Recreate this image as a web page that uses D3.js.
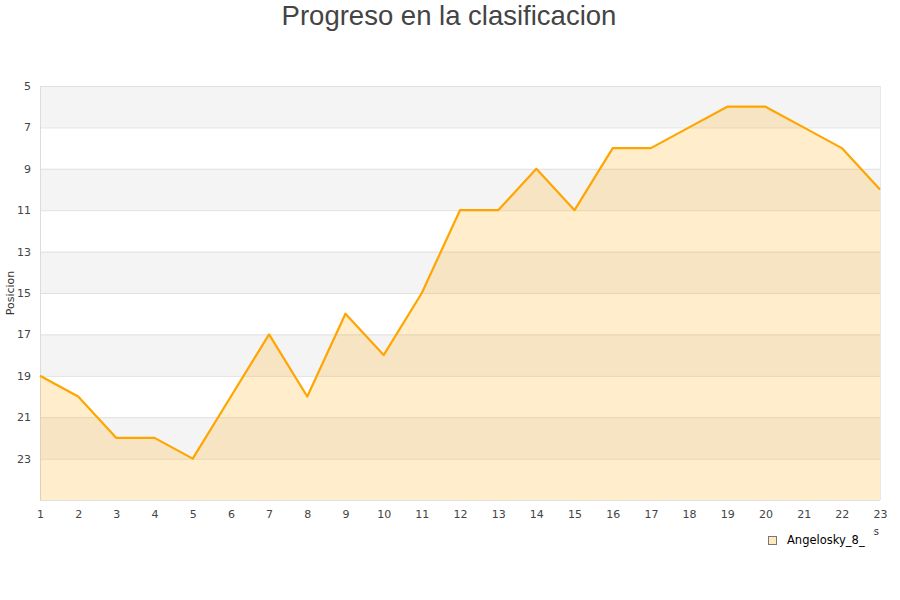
<!DOCTYPE html>
<html><head><meta charset="utf-8">
<script src="https://cdn.jsdelivr.net/npm/d3@7"></script>
<style>body{margin:0;background:#fff}svg{display:block}</style>
</head><body>
<svg id="c" width="900" height="600"></svg>
<script>
const jornadas = [1,2,3,4,5,6,7,8,9,10,11,12,13,14,15,16,17,18,19,20,21,22,23];
const posiciones = [19,20,22,22,23,20,17,20,16,18,15,11,11,9,11,8,8,7,6,6,7,8,10];
const yTicks = [5,7,9,11,13,15,17,19,21,23];
const seriesName = "Angelosky_8_";
const title = "Progreso en la clasificacion";
const yTitle = "Posicion";
const xTitle = "Jornadas";

const svg = d3.select("#c");
const m = {l:40, r:880, t:86, b:500};
const x = d3.scaleLinear().domain([1,23]).range([m.l, m.r]);
const y = d3.scaleLinear().domain([5,25]).range([m.t, m.b]);

// bands
const bands = d3.range(5,25,2);
svg.selectAll("rect.band").data(bands).enter().append("rect")
  .attr("x", m.l).attr("width", m.r-m.l)
  .attr("y", d=>y(d)).attr("height", d=>y(d+2)-y(d))
  .attr("fill", (d,i)=> i%2===0 ? "#f4f4f4" : "#ffffff");

// gridlines
svg.selectAll("line.grid").data(yTicks.concat([25])).enter().append("line")
  .attr("x1", m.l).attr("x2", m.r).attr("y1", d=>y(d)+0.5).attr("y2", d=>y(d)+0.5)
  .attr("stroke", "#e0e0e0").attr("stroke-width",1);
svg.append("line").attr("x1",m.l+0.5).attr("x2",m.l+0.5).attr("y1",m.t).attr("y2",m.b)
  .attr("stroke","#dcdcdc");
svg.append("line").attr("x1",m.r+0.5).attr("x2",m.r+0.5).attr("y1",m.t).attr("y2",m.b)
  .attr("stroke","#e8e8e8");

const pts = jornadas.map((j,i)=>({j, p:posiciones[i]}));
svg.append("path").datum(pts)
  .attr("d", d3.area().x(d=>x(d.j)).y0(y(25)).y1(d=>y(d.p)))
  .attr("fill", "#ffa500").attr("fill-opacity", 0.2);
svg.append("path").datum(pts)
  .attr("d", d3.line().x(d=>x(d.j)).y(d=>y(d.p)))
  .attr("fill","none").attr("stroke","#ffa500").attr("stroke-width",2.2)
  .attr("stroke-linejoin","round");

// y axis labels
const yAxis = d3.axisLeft(y).tickValues(yTicks).tickSize(0).tickPadding(9);
const gy = svg.append("g").attr("transform",`translate(${m.l},0)`).call(yAxis);
gy.select(".domain").remove();
gy.selectAll("text").attr("font-family","DejaVu Sans").attr("font-size",11).attr("fill","#444");

const xAxis = d3.axisBottom(x).tickValues(jornadas).tickFormat(d3.format("d")).tickSize(0).tickPadding(10);
const gx = svg.append("g").attr("transform",`translate(0,${m.b})`).call(xAxis);
gx.select(".domain").remove();
gx.selectAll("text").attr("font-family","DejaVu Sans").attr("font-size",11).attr("fill","#444");

// titles
svg.append("text").attr("x",449).attr("y",25).attr("text-anchor","middle")
  .attr("font-family","Liberation Sans, Arial").attr("font-size",27.5).attr("fill","#444").text(title);
svg.append("text").attr("transform","translate(14,293) rotate(-90)").attr("text-anchor","middle")
  .attr("font-family","DejaVu Sans").attr("font-size",11).attr("fill","#333").text(yTitle);
svg.append("text").attr("x",879).attr("y",535).attr("text-anchor","end")
  .attr("font-family","DejaVu Sans").attr("font-size",10).attr("fill","#333").text(xTitle);

// legend
svg.append("rect").attr("x",760).attr("y",523).attr("width",113.5).attr("height",34).attr("fill","#fff");
svg.append("rect").attr("x",768.5).attr("y",536.5).attr("width",8).attr("height",8)
  .attr("fill","#ffe9bf").attr("stroke","#777").attr("stroke-width",1);
svg.append("text").attr("x",787).attr("y",544).attr("font-family","DejaVu Sans").attr("font-size",11.5)
  .attr("fill","#000").text(seriesName);
</script>
</body></html>
